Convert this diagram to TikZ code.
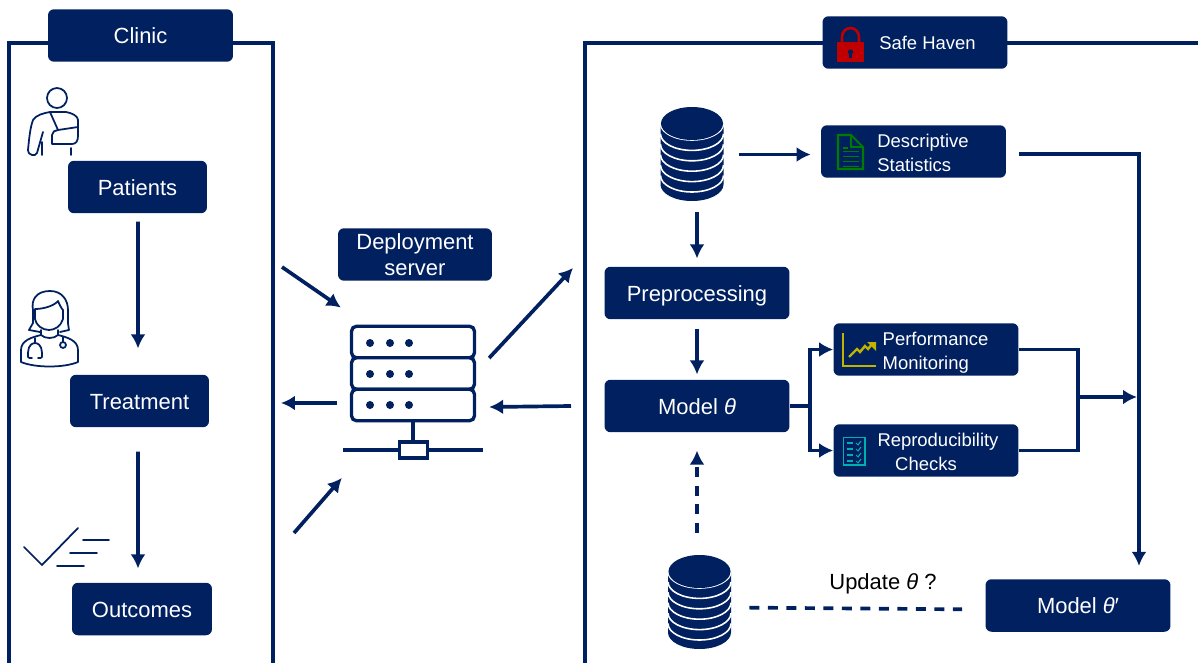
\documentclass[tikz,border=0pt]{standalone}
\usepackage{fontspec}
\setmainfont{Liberation Sans}
\usetikzlibrary{arrows, arrows.meta}
\usetikzlibrary{calc}
\definecolor{navy}{HTML}{002060}
\definecolor{lockred}{HTML}{C00000}
\definecolor{docgreen}{HTML}{007A00}
\definecolor{chartyellow}{HTML}{C0B400}
\definecolor{listteal}{HTML}{00B0B0}
\tikzset{
  navybox/.style={rectangle, fill=navy, rounded corners=0.12cm, text=white, inner sep=0pt, minimum width=3.7cm, minimum height=1.05cm},
  bigbox/.style={navybox, font=\fontsize{12.5}{14.8}\selectfont, align=center},
  linebox/.style={bigbox, text height=10pt, text depth=0.6pt},
  smallbox/.style={navybox, font=\fontsize{10.5}{13.7}\selectfont},
  twolines/.style={smallbox, text height=22.4pt, text depth=0pt},
  frameline/.style={draw=navy, line width=1.85pt},
  flowline/.style={draw=navy, line width=2.1pt},
  flowarrow/.style={flowline, -{Latex[length=0.28cm,width=0.3cm]}},
  dashflow/.style={flowline, dash pattern=on 0.2cm off 0.17cm},
  icon/.style={draw=navy, line width=1pt, line cap=round, line join=round},
  rackunit/.style={rectangle, draw=navy, fill=white, line width=1.9pt, rounded corners=0.1cm, inner sep=0pt, minimum width=2.46cm, minimum height=0.63cm},
  hubbox/.style={rectangle, draw=navy, fill=white, line width=1.9pt, inner sep=0pt, minimum width=0.56cm, minimum height=0.32cm},
  dbspace/.style={rectangle, inner sep=0pt, minimum width=1.26cm, minimum height=1.9cm}
}
% stack of discs, centre of the top disc at #1
\newcommand{\dbstack}[1]{
  \begin{scope}[shift={#1}]
    \fill[navy] (-31.5,0) -- (-31.5,61) arc[start angle=180, end angle=0, x radius=31.5, y radius=16.5] -- (31.5,0) -- cycle;
    \foreach \i in {0,...,5} {
      \draw[white, line width=0.9pt] (-31.5,{\i*10.4}) arc[start angle=180, end angle=0, x radius=31.5, y radius=16.5];
    }
    \fill[navy] (0,0) ellipse [x radius=31, y radius=16.5];
  \end{scope}
}
\begin{document}
\begin{tikzpicture}[x=0.02cm, y=-0.02cm]
  \useasboundingbox (0,0) rectangle (1198,663);

  \draw[frameline] (9,663) -- (9,43) -- (273,43) -- (273,663);
  \draw[frameline] (585,663) -- (585,43) -- (1198,43);

  \node[linebox] (clinic) at (140.5,35.5) {Clinic};
  \node[linebox, minimum width=2.78cm] (patients) at (137.5,187) {Patients};
  \node[linebox, minimum width=2.78cm] (treatment) at (139.5,401) {Treatment};
  \node[linebox, minimum width=2.8cm] (outcomes) at (142,609) {Outcomes};
  \node[bigbox, minimum width=3.08cm] (deploy) at (415,254.5) {Deployment\\server};

  \node[smallbox, align=center] (haven) at (915,42.5) {\hspace*{0.5cm}Safe Haven};
  \node[twolines, align=left] (descstat) at (913.5,151.5) {\hspace*{0.38cm}Descriptive\\\hspace*{0.38cm}Statistics};
  \node[linebox] (prep) at (697,293) {Preprocessing};
  \node[linebox] (model) at (697,406) {Model \textit{θ}};
  \node[twolines, align=left] (perf) at (926,349.5) {\hspace*{0.38cm}Performance\\\hspace*{0.38cm}Monitoring};
  \node[twolines, align=center] (repro) at (926,450.5) {\hspace*{0.48cm}Reproducibility\\Checks};
  \node[linebox] (modelnew) at (1078,605.5) {Model \textit{θ}′};
  \node[font=\fontsize{12.5}{14.8}\selectfont, inner sep=0pt] (update) at (883,583.5) {Update \textit{θ} ?};

  \node[dbspace] (datatop) at (692,154.5) {};
  \node[dbspace] (datanew) at (699.5,602.5) {};
  \dbstack{(692,123.5)}
  \dbstack{(699.5,571.5)}

  \node[rackunit] (rackA) at (413,342) {};
  \node[rackunit] (rackB) at (413,373.5) {};
  \node[rackunit] (rackC) at (413,405) {};
  \foreach \y in {343,374,405} {
    \foreach \x in {370,390,409} {
      \fill[navy] (\x,\y) circle (4);
    }
  }
  \coordinate (netleft) at (343,450);
  \coordinate (netright) at (483,450);
  \draw[flowline] (netleft) -- (netright);
  \draw[flowline] (rackC.south) -- (413,441);
  \node[hubbox] (hub) at (413.5,450) {};

  \coordinate (clinicout) at (282,267);
  \coordinate (clinicback) at (281,403);
  \coordinate (clinicin) at (294,533);
  \coordinate (havenin) at (573,268);
  \coordinate (havenout) at (571,406);
  \coordinate (split) at (810,406);
  \coordinate (merge) at (1078,397);
  \coordinate (mergeend) at (1137,397);

  \draw[flowarrow, shorten <=0.16cm, shorten >=0.52cm] ([xshift=0.01cm]patients.south) -- ([xshift=-0.03cm]treatment.north);
  \draw[flowarrow, shorten <=0.48cm, shorten >=0.28cm] ([xshift=-0.03cm]treatment.south) -- ([xshift=-0.08cm]outcomes.north);

  \draw[flowarrow] (clinicout) -- ([xshift=-0.18cm,yshift=0.34cm]rackA.north west);
  \draw[flowarrow] (clinicin) -- ([xshift=-1.12cm,yshift=-0.56cm]hub.west);
  \draw[flowarrow] ([xshift=-0.26cm,yshift=0.04cm]rackC.west) -- (clinicback);
  \draw[flowarrow] ([xshift=0.26cm,yshift=0.31cm]rackB.east) -- (havenin);
  \draw[flowarrow] (havenout) -- ([xshift=0.26cm,yshift=-0.04cm]rackC.east);

  \draw[flowarrow, shorten <=0.3cm, shorten >=0.2cm] (datatop.east) -- (datatop.east -| descstat.west);
  \draw[flowarrow, shorten <=0.2cm, shorten >=0.16cm] (prep.north |- datatop.south) -- (prep.north);
  \draw[flowarrow, shorten <=0.18cm, shorten >=0.1cm] (prep.south) -- (model.north);
  \draw[dashflow, -{Latex[length=0.28cm,width=0.3cm]}, shorten <=0.44cm, shorten >=0.36cm] (model.south |- datanew.north) -- (model.south);
  \draw[dashflow, shorten <=0.36cm, shorten >=0.46cm] ([yshift=-0.1cm]datanew.east) -- ([yshift=-0.08cm]modelnew.west);

  \draw[flowline] (model.east) -- (split);
  \draw[flowarrow] (split) |- (perf.west);
  \draw[flowarrow] (split) |- (repro.west);
  \draw[flowline] (perf.east) -| (merge);
  \draw[flowline] (repro.east) -| (merge);
  \draw[flowarrow, line width=2.6pt] (merge) -- (mergeend);
  \draw[flowarrow, shorten <=0.26cm, shorten >=0.26cm] ([yshift=-0.05cm]descstat.east) -| ([xshift=1.22cm]modelnew.north);

  % patient
  \draw[icon] (57,98) circle (10);
  \draw[icon] (28,150) .. controls (29,140) and (30,128) .. (33,120) .. controls (36,115) and (44,113) .. (50,112) -- (66,112) .. controls (72,113) and (78,116) .. (78,120) -- (78,136) .. controls (78,141) and (76,144) .. (72,144) -- (52,144) -- (52,135) .. controls (52,132) and (55,130) .. (58,130) -- (78,127);
  \draw[icon] (28,150) .. controls (27,155) and (36,157) .. (37,153) -- (43,132);
  \draw[icon] (50,112) -- (58,130);
  \draw[icon] (42,142) -- (42,155);
  \draw[icon] (71,148) -- (71,155);

  % doctor
  \draw[icon] (33,310) .. controls (31,300) and (36,291) .. (50,291) .. controls (62,291) and (68,300) .. (68,310) -- (68,323) .. controls (68,326) and (69,328) .. (69,330) -- (60,332);
  \draw[icon] (33,310) -- (33,323) -- (29,330) -- (40,332);
  \draw[icon] (35,309) .. controls (45,309) and (55,305) .. (58,301) .. controls (60,306) and (62,309) .. (63,310) -- (63,319) .. controls (61,326) and (55,330) .. (49,330) .. controls (42,330) and (36,325) .. (35,319) -- cycle;
  \draw[icon] (41,330) -- (41,335) .. controls (45,339) and (54,339) .. (58,335) -- (58,330);
  \draw[icon] (41,335) .. controls (33,337) and (21,340) .. (21,350) -- (21,362) .. controls (35,368) and (64,368) .. (78,362) -- (78,350) .. controls (78,340) and (66,337) .. (58,335);
  \draw[icon] (35,338) -- (35,343) .. controls (28,344) and (28,350) .. (28,357) .. controls (28,358) and (30,358) .. (32,358);
  \draw[icon] (35,343) .. controls (42,344) and (42,350) .. (42,357) .. controls (42,358) and (40,358) .. (38,358);
  \draw[icon] (63,337) -- (63,342);
  \draw[icon] (63,345) circle (3);

  % outcomes tick
  \draw[icon] (24,547) -- (42,565) -- (78,528);
  \draw[icon] (83,540) -- (109,540);
  \draw[icon] (70,553) -- (97,553);
  \draw[icon] (57,566) -- (84,566);

  % lock
  \draw[lockred, line width=1.5pt] (842,43) -- (842,37) arc[start angle=180, end angle=360, x radius=8.5, y radius=9] -- (859,43);
  \fill[lockred] (837,42) rectangle (864,62);
  \fill[navy] (850.5,52) circle (2.6);
  \fill[navy] (849.2,52) rectangle (851.8,58);

  % document
  \draw[docgreen, line width=1.2pt] (838,135) -- (851,135) -- (863,147) -- (863,169) -- (838,169) -- cycle;
  \draw[docgreen, line width=0.8pt] (851,135) -- (851,147) -- (863,147);
  \draw[docgreen, line width=0.8pt] (843,148) -- (848,148);
  \foreach \y in {152,157,162,167} {
    \draw[docgreen, line width=0.8pt] (843,{\y-0.5}) -- (859,{\y-0.5});
  }

  % chart
  \draw[chartyellow, line width=1.5pt] (843,333) -- (843,366) -- (876,366);
  \draw[chartyellow, line width=1.4pt] (849,357) -- (857,349) -- (860,352) -- (865,346) -- (868,349) -- (873,343);
  \fill[chartyellow] (867,342) -- (876,342) -- (876,351) -- cycle;

  % checklist
  \draw[listteal, line width=1.1pt] (843.5,437.5) rectangle (865,465);
  \foreach \y in {443,449,455,461} {
    \draw[listteal, line width=0.6pt] (847,\y) -- (853,\y);
    \draw[listteal, line width=0.6pt] (856,\y) -- (858,{\y+2}) -- (861,{\y-2});
  }
\end{tikzpicture}
\end{document}
